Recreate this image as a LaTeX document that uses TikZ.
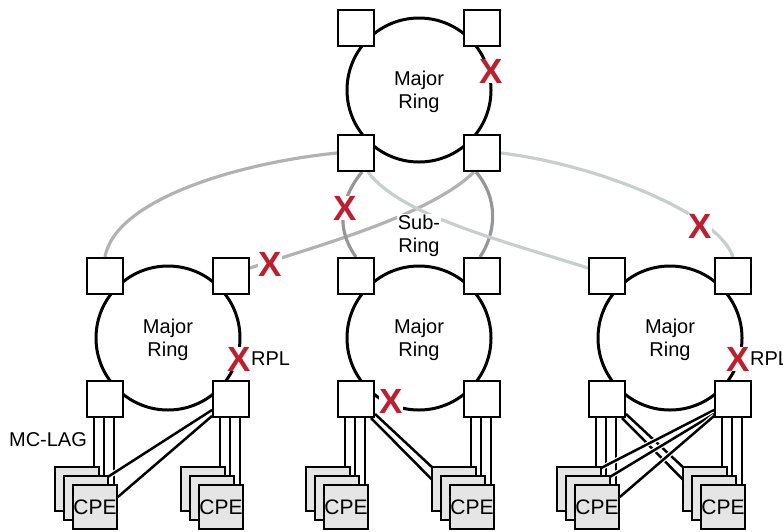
\documentclass[tikz,border=0pt]{standalone}
\usepackage{fontspec}
\setmainfont{Liberation Sans}
\usetikzlibrary{backgrounds}
\definecolor{xred}{RGB}{190,30,45}
\definecolor{linkgray}{RGB}{178,178,178}
\definecolor{subgray}{RGB}{150,150,152}
\definecolor{palegray}{RGB}{200,206,206}
\definecolor{cpegray}{RGB}{229,229,229}
\begin{document}
\begin{tikzpicture}[x=1pt, y=-1pt,
		box/.style={draw, line width=2pt, fill=white, minimum size=36pt, inner sep=0pt},
		cpe/.style={draw, line width=1.6pt, fill=cpegray, minimum size=44pt, inner sep=0pt, font=\fontsize{21}{21}\selectfont},
		ring/.style={line width=3pt},
		link/.style={line width=3.2pt},
		cpelink/.style={line width=2.5pt, preaction={draw=white, line width=5pt}},
		xmark/.style={text=xred, fill=white, inner sep=0pt, font=\fontsize{35}{35}\selectfont\bfseries},
		lbl/.style={align=center, inner sep=1pt, font=\fontsize{20}{23}\selectfont}]
		\useasboundingbox (0,0) rectangle (783,531);
		
		% Rings
		\draw[ring] (419,90) circle[radius=72pt];
		\draw[ring] (168,338) circle[radius=72pt];
		\draw[ring] (419,338) circle[radius=72pt];
		\draw[ring] (670,338) circle[radius=72pt];
		
		% Ring nodes
		\node[box] (T1) at (356,28) {}; \node[box] (T2) at (482,28) {};
		\node[box] (T3) at (356,153) {}; \node[box] (T4) at (482,153) {};
		\node[box] (L1) at (105,276) {}; \node[box] (L2) at (231,276) {};
		\node[box] (L3) at (105,399) {}; \node[box] (L4) at (231,399) {};
		\node[box] (M1) at (356,276) {}; \node[box] (M2) at (482,276) {};
		\node[box] (M3) at (356,399) {}; \node[box] (M4) at (482,399) {};
		\node[box] (R1) at (607,276) {}; \node[box] (R2) at (733,276) {};
		\node[box] (R3) at (607,399) {}; \node[box] (R4) at (733,399) {};
		
		% CPE stacks
		\node[cpe] (A1) at (77,489) {}; \node[cpe] (A2) at (86,498) {}; \node[cpe] (A3) at (95,507) {CPE};
		\node[cpe] (B1) at (203,489) {}; \node[cpe] (B2) at (212,498) {}; \node[cpe] (B3) at (221,507) {CPE};
		\node[cpe] (C1) at (328,489) {}; \node[cpe] (C2) at (337,498) {}; \node[cpe] (C3) at (346,507) {CPE};
		\node[cpe] (D1) at (454,489) {}; \node[cpe] (D2) at (463,498) {}; \node[cpe] (D3) at (472,507) {CPE};
		\node[cpe] (E1) at (579,489) {}; \node[cpe] (E2) at (588,498) {}; \node[cpe] (E3) at (597,507) {CPE};
		\node[cpe] (F1) at (705,489) {}; \node[cpe] (F2) at (714,498) {}; \node[cpe] (F3) at (723,507) {CPE};
		
		\begin{scope}[on background layer]
			% Sub-ring links
			\draw[link, linkgray] (T3.west) .. controls +(-100,10) and +(10,-57) .. (L1.north);
			\draw[link, linkgray] ([xshift=-8pt]T4.south) .. controls +(-44,43) and +(70,-23) .. ([yshift=8pt]L2.east);
			\draw[link, subgray] ([xshift=6pt]T3.south) .. controls +(-27,33) and +(-16,-22) .. (M1.north);
			\draw[link, subgray] ([xshift=-6pt]T4.south) .. controls +(24,28) and +(15,-22) .. ([xshift=-2pt]M2.north);
			\draw[link, palegray] ([xshift=12pt]T3.south) .. controls +(32,43) and +(-88,-28) .. ([yshift=8pt]R1.west);
			\draw[link, palegray] (T4.east) .. controls +(99,12) and +(-13,-42) .. (R2.north);
			
			% MC-LAG links
			\draw[cpelink] ([xshift=-11pt]L3.south) -- ([xshift=-11pt]L3.south |- A1.north);
			\draw[cpelink] ([xshift=-1pt]L3.south) -- ([xshift=-1pt]L3.south |- A2.north);
			\draw[cpelink] ([xshift=9pt]L3.south) -- ([xshift=9pt]L3.south |- A3.north);
			\draw[cpelink] ([xshift=-11pt]L4.south) -- ([xshift=-11pt]L4.south |- B1.north);
			\draw[cpelink] ([xshift=-1pt]L4.south) -- ([xshift=-1pt]L4.south |- B2.north);
			\draw[cpelink] ([xshift=9pt]L4.south) -- ([xshift=9pt]L4.south |- B3.north);
			\draw[cpelink] ([yshift=-11pt]L4.west) -- ([shift={(-3pt,-3pt)}]A2.north east);
			\draw[cpelink] ([yshift=2pt]L4.south west) -- ([yshift=10pt]A3.east);
			
			\draw[cpelink] ([xshift=-11pt]M3.south) -- ([xshift=-11pt]M3.south |- C1.north);
			\draw[cpelink] ([xshift=-1pt]M3.south) -- ([xshift=-1pt]M3.south |- C2.north);
			\draw[cpelink] ([xshift=9pt]M3.south) -- ([xshift=9pt]M3.south |- C3.north);
			\draw[cpelink] ([xshift=-11pt]M4.south) -- ([xshift=-11pt]M4.south |- D1.north);
			\draw[cpelink] ([xshift=-1pt]M4.south) -- ([xshift=-1pt]M4.south |- D2.north);
			\draw[cpelink] ([xshift=9pt]M4.south) -- ([xshift=9pt]M4.south |- D3.north);
			\draw[cpelink] ([yshift=4pt]M3.south east) -- ([shift={(3pt,-3pt)}]D1.north west);
			\draw[cpelink] ([xshift=-4pt]M3.south east) -- ([yshift=10pt]D3.west);
			
			\draw[cpelink] ([xshift=-11pt]R3.south) -- ([xshift=-11pt]R3.south |- E1.north);
			\draw[cpelink] ([xshift=-1pt]R3.south) -- ([xshift=-1pt]R3.south |- E2.north);
			\draw[cpelink] ([xshift=9pt]R3.south) -- ([xshift=9pt]R3.south |- E3.north);
			\draw[cpelink] ([xshift=-11pt]R4.south) -- ([xshift=-11pt]R4.south |- F1.north);
			\draw[cpelink] ([xshift=-1pt]R4.south) -- ([xshift=-1pt]R4.south |- F2.north);
			\draw[cpelink] ([xshift=9pt]R4.south) -- ([xshift=9pt]R4.south |- F3.north);
			\draw[cpelink] ([yshift=4pt]R3.south east) -- ([shift={(3pt,-3pt)}]F1.north west);
			\draw[cpelink] ([xshift=-4pt]R3.south east) -- ([yshift=10pt]F3.west);
			\draw[cpelink] ([yshift=-11pt]R4.west) -- ([shift={(-3pt,-3pt)}]E1.north east);
			\draw[cpelink] ([yshift=-15pt]R4.west) -- ([shift={(-3pt,-3pt)}]E2.north east);
			\draw[cpelink] ([yshift=2pt]R4.south west) -- ([yshift=10pt]E3.east);
		\end{scope}
		
		% Labels
		\node[lbl] (toptxt) at (419,92) {Major\\Ring};
		\node[lbl] (lefttxt) at (168,340) {Major\\Ring};
		\node[lbl] (midtxt) at (419,340) {Major\\Ring};
		\node[lbl] (righttxt) at (670,340) {Major\\Ring};
		\node[lbl, fill=white] (subtxt) at (419,236) {Sub-\\Ring};
		\node[lbl] (mclag) at (48,440) {MC-LAG};
		
		% Blocked ports
		\node[xmark] (x1) at (491,71) {X};
		\node[xmark] (x2) at (345,208) {X};
		\node[xmark] (x3) at (270,264) {X};
		\node[xmark] (x4) at (700,226) {X};
		\node[xmark] (x5) at (239,359) {X};
		\node[xmark] (x6) at (391,401) {X};
		\node[xmark] (x7) at (738,359) {X};
		\node[lbl, anchor=west, inner sep=0pt] (rpl1) at (x5.east) {RPL};
		\node[lbl, anchor=west, inner sep=0pt] (rpl2) at (x7.east) {RPL};
	\end{tikzpicture}
\end{document}
